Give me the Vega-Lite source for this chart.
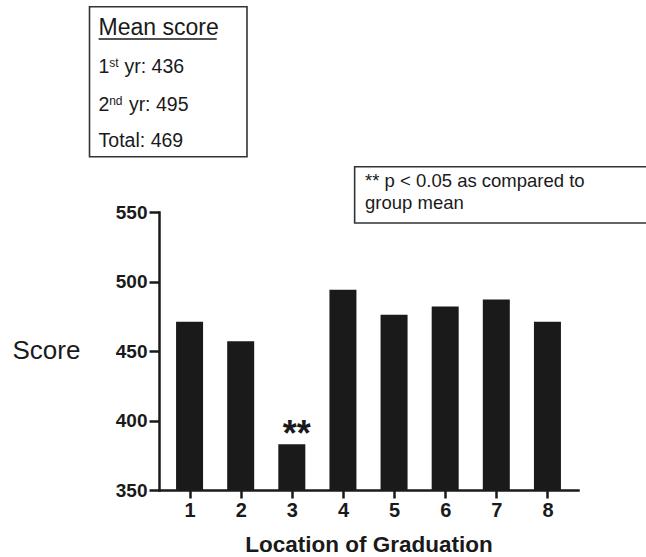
{
  "$schema": "https://vega.github.io/schema/vega-lite/v6.json",
  "width": 419,
  "height": 278,
  "autosize": "none",
  "padding": {"left": 159, "top": 212, "right": 68, "bottom": 67},
  "background": "white",
  "config": {
    "view": {"stroke": null},
    "font": "Liberation Sans",
    "text": {"font": "Liberation Sans", "color": "#1a1a1a"}
  },
  "datasets": {
    "bars": [
      {"location": 1, "score": 471, "sig": ""},
      {"location": 2, "score": 457, "sig": ""},
      {"location": 3, "score": 383, "sig": "**"},
      {"location": 4, "score": 494, "sig": ""},
      {"location": 5, "score": 476, "sig": ""},
      {"location": 6, "score": 482, "sig": ""},
      {"location": 7, "score": 487, "sig": ""},
      {"location": 8, "score": 471, "sig": ""}
    ],
    "boxes": [
      {"box": "mean", "x": -0.957, "x2": 2.123, "y": 697.7, "y2": 589.8},
      {"box": "note", "x": 4.229, "x2": 10, "y": 582.6, "y2": 542.1}
    ],
    "underline": [{"x": -0.779, "x2": 1.531, "y": 674.5}],
    "heading": [{"x": -0.779, "y": 677.3, "text": "Mean score"}],
    "meanLines": [
      {"x": -0.779, "y": 649.8, "text": "1"},
      {"x": -0.273, "y": 649.8, "text": "yr: 436"},
      {"x": -0.779, "y": 622.9, "text": "2"},
      {"x": -0.187, "y": 622.9, "text": "yr: 495"},
      {"x": -0.779, "y": 596.5, "text": "Total: 469"}
    ],
    "supers": [
      {"x": -0.573, "y": 654.1, "text": "st"},
      {"x": -0.573, "y": 627.2, "text": "nd"}
    ],
    "note": [
      {"x": 4.433, "y": 568.0, "text": "** p < 0.05 as compared to"},
      {"x": 4.433, "y": 552.2, "text": "group mean"}
    ]
  },
  "resolve": {"axis": {"x": "independent", "y": "independent"}},
  "layer": [
    {
      "data": {"name": "bars"},
      "mark": {"type": "bar", "width": 27, "color": "#1a1a1a", "clip": true},
      "encoding": {
        "x": {
          "field": "location", "type": "quantitative",
          "scale": {"domain": [0.5, 8.5], "nice": false, "zero": false},
          "axis": {
            "values": [1, 2, 3, 4, 5, 6, 7, 8], "format": "d", "grid": false,
            "title": "Location of Graduation",
            "titleFont": "Liberation Sans", "titleFontSize": 22.5, "titleFontWeight": "bold",
            "titleColor": "#1a1a1a", "titleBaseline": "alphabetic", "titleX": 209.5, "titleY": 61.7,
            "labelFont": "Liberation Sans", "labelFontSize": 20, "labelFontWeight": "bold",
            "labelColor": "#1a1a1a", "labelPadding": 2, "labelFlush": false,
            "domainColor": "#1a1a1a", "domainWidth": 2.5, "domainCap": "square",
            "tickColor": "#1a1a1a", "tickWidth": 2.5, "tickSize": 8
          }
        },
        "y": {
          "field": "score", "type": "quantitative",
          "scale": {"domain": [350, 550], "nice": false, "zero": false},
          "axis": {
            "values": [350, 400, 450, 500, 550], "grid": false,
            "title": "Score", "titleAngle": 0, "titleAlign": "left", "titleBaseline": "alphabetic",
            "titleX": -147, "titleY": 146, "titleFont": "Liberation Sans", "titleFontSize": 26,
            "titleFontWeight": "normal", "titleColor": "#1a1a1a",
            "labelFont": "Liberation Sans", "labelFontSize": 19, "labelFontWeight": "bold",
            "labelColor": "#1a1a1a", "labelPadding": 2, "labelFlush": false,
            "domainColor": "#1a1a1a", "domainWidth": 2.5, "domainCap": "square",
            "tickColor": "#1a1a1a", "tickWidth": 2.5, "tickSize": 10
          }
        }
      }
    },
    {
      "data": {"name": "bars"},
      "transform": [{"filter": "datum.sig != ''"}],
      "mark": {"type": "text", "fontSize": 36, "fontWeight": "bold", "baseline": "alphabetic", "align": "center", "dx": 5, "dy": 2},
      "encoding": {
        "x": {"field": "location", "type": "quantitative", "scale": {"domain": [0.5, 8.5], "nice": false, "zero": false}, "axis": null},
        "y": {"field": "score", "type": "quantitative", "scale": {"domain": [350, 550], "nice": false, "zero": false}, "axis": null},
        "text": {"field": "sig"}
      }
    },
    {
      "data": {"name": "boxes"},
      "mark": {"type": "rect", "fill": "white", "fillOpacity": 0, "stroke": "#333333", "strokeWidth": 1.6},
      "encoding": {
        "x": {"field": "x", "type": "quantitative", "scale": {"domain": [0.5, 8.5], "nice": false, "zero": false}, "axis": null},
        "x2": {"field": "x2"},
        "y": {"field": "y", "type": "quantitative", "scale": {"domain": [350, 550], "nice": false, "zero": false}, "axis": null},
        "y2": {"field": "y2"}
      }
    },
    {
      "data": {"name": "underline"},
      "mark": {"type": "rule", "color": "#1a1a1a", "strokeWidth": 1.5},
      "encoding": {
        "x": {"field": "x", "type": "quantitative", "scale": {"domain": [0.5, 8.5], "nice": false, "zero": false}, "axis": null},
        "x2": {"field": "x2"},
        "y": {"field": "y", "type": "quantitative", "scale": {"domain": [350, 550], "nice": false, "zero": false}, "axis": null}
      }
    },
    {
      "data": {"name": "heading"},
      "mark": {"type": "text", "fontSize": 23, "align": "left", "baseline": "alphabetic"},
      "encoding": {
        "x": {"field": "x", "type": "quantitative", "scale": {"domain": [0.5, 8.5], "nice": false, "zero": false}, "axis": null},
        "y": {"field": "y", "type": "quantitative", "scale": {"domain": [350, 550], "nice": false, "zero": false}, "axis": null},
        "text": {"field": "text"}
      }
    },
    {
      "data": {"name": "meanLines"},
      "mark": {"type": "text", "fontSize": 19.5, "align": "left", "baseline": "alphabetic"},
      "encoding": {
        "x": {"field": "x", "type": "quantitative", "scale": {"domain": [0.5, 8.5], "nice": false, "zero": false}, "axis": null},
        "y": {"field": "y", "type": "quantitative", "scale": {"domain": [350, 550], "nice": false, "zero": false}, "axis": null},
        "text": {"field": "text"}
      }
    },
    {
      "data": {"name": "supers"},
      "mark": {"type": "text", "fontSize": 12, "align": "left", "baseline": "alphabetic"},
      "encoding": {
        "x": {"field": "x", "type": "quantitative", "scale": {"domain": [0.5, 8.5], "nice": false, "zero": false}, "axis": null},
        "y": {"field": "y", "type": "quantitative", "scale": {"domain": [350, 550], "nice": false, "zero": false}, "axis": null},
        "text": {"field": "text"}
      }
    },
    {
      "data": {"name": "note"},
      "mark": {"type": "text", "fontSize": 18.5, "align": "left", "baseline": "alphabetic"},
      "encoding": {
        "x": {"field": "x", "type": "quantitative", "scale": {"domain": [0.5, 8.5], "nice": false, "zero": false}, "axis": null},
        "y": {"field": "y", "type": "quantitative", "scale": {"domain": [350, 550], "nice": false, "zero": false}, "axis": null},
        "text": {"field": "text"}
      }
    }
  ]
}
